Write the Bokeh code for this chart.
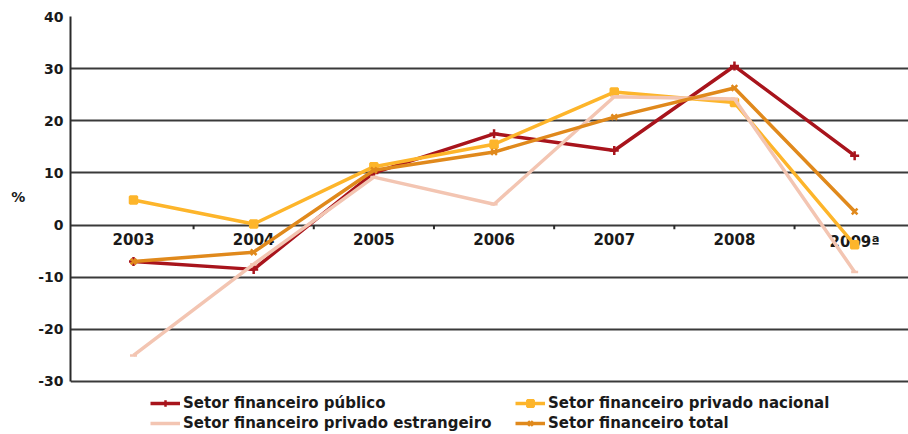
from bokeh.plotting import figure
from bokeh.models import Range1d, FixedTicker, Legend, LegendItem
from bokeh.core.properties import value
from bokeh.embed import file_html
from bokeh.resources import INLINE

years = [2003, 2004, 2005, 2006, 2007, 2008, 2009]
year_labels = ["2003", "2004", "2005", "2006", "2007", "2008", "2009ª"]
publico = [-7.0, -8.5, 10.0, 17.5, 14.3, 30.5, 13.3]
privado_nacional = [4.8, 0.2, 11.2, 15.5, 25.5, 23.5, -3.8]
privado_estrangeiro = [-25.0, -7.5, 9.2, 4.0, 24.6, 24.2, -9.0]
total = [-7.0, -5.2, 10.5, 14.0, 20.7, 26.3, 2.6]
y_ticks = [-30, -20, -10, 0, 10, 20, 30, 40]
y_tick_labels = ["-30", "-20", "-10", "0", "10", "20", "30", "40"]

FONT = "DejaVu Sans"
TXT = "#1a1a1a"
AX = "#2a2a2a"

# frame runs to the bottom of the figure so the legend can sit inside it
p = figure(width=908, height=434, output_backend="svg", toolbar_location=None,
           x_range=Range1d(2002.476, 2009.448), y_range=Range1d(-40.17, 40),
           min_border_left=70, min_border_right=0, min_border_top=16, min_border_bottom=0)
p.outline_line_color = None
p.xaxis.visible = False

# grid
p.xgrid.grid_line_color = None
p.ygrid.ticker = FixedTicker(ticks=y_ticks)
p.ygrid.grid_line_color = "#3a3a3a"
p.ygrid.grid_line_width = 1.8

# y axis
p.yaxis.ticker = FixedTicker(ticks=y_ticks)
p.yaxis.bounds = (-30, 40)
p.yaxis.major_label_overrides = {t: l for t, l in zip(y_ticks, y_tick_labels)}
p.yaxis.axis_line_color = AX
p.yaxis.axis_line_width = 2
p.yaxis.major_tick_out = 0
p.yaxis.major_tick_in = 0
p.yaxis.minor_tick_line_color = None
p.yaxis.major_label_text_font = FONT
p.yaxis.major_label_text_font_style = "bold"
p.yaxis.major_label_text_font_size = "14px"
p.yaxis.major_label_text_color = TXT
p.yaxis.major_label_standoff = 7
p.yaxis.axis_label = "%\n\n\n"
p.yaxis.axis_label_text_font = FONT
p.yaxis.axis_label_text_font_style = "bold"
p.yaxis.axis_label_text_font_size = "14px"
p.yaxis.axis_label_text_color = TXT
p.yaxis.axis_label_standoff = 10
try:
    p.yaxis.axis_label_orientation = "horizontal"
except Exception:
    pass

# category axis along zero: small ticks between categories + labels
bounds_x = [y + 0.5 for y in years[:-1]]
p.segment(x0=bounds_x, y0=[0] * len(bounds_x), x1=bounds_x, y1=[-0.8] * len(bounds_x),
          line_color=AX, line_width=2)
p.text(x=years, y=[0] * len(years), text=year_labels, text_align="center",
       text_baseline="top", y_offset=8, text_font_size="15px",
       text_font_style="bold", text_color=TXT, text_font=value(FONT))

series = [
    ("Setor financeiro público", publico, "#A8141C", "cross", 9),
    ("Setor financeiro privado nacional", privado_nacional, "#FDB52B", "square", 7),
    ("Setor financeiro privado estrangeiro", privado_estrangeiro, "#F3C5B2", "dash", 7),
    ("Setor financeiro total", total, "#E0891C", "x", 8),
]

items = []
for name, vals, color, marker, size in series:
    r1 = p.line(years, vals, line_color=color, line_width=3.5)
    r2 = p.scatter(years, vals, marker=marker, size=size, line_color=color,
                   fill_color=color, line_width=2.5)
    items.append(LegendItem(label=name, renderers=[r1, r2]))

legend = Legend(items=items, orientation="horizontal", ncols=2,
                location=(80, 2), padding=0, margin=0, spacing=2,
                glyph_width=30, glyph_height=16, label_height=16,
                label_width=330, label_standoff=3, border_line_color=None,
                background_fill_alpha=0,
                label_text_font=FONT, label_text_font_style="bold",
                label_text_font_size="15px", label_text_color=TXT)
p.add_layout(legend, "center")

open("out.html", "w").write(file_html(p, INLINE))
